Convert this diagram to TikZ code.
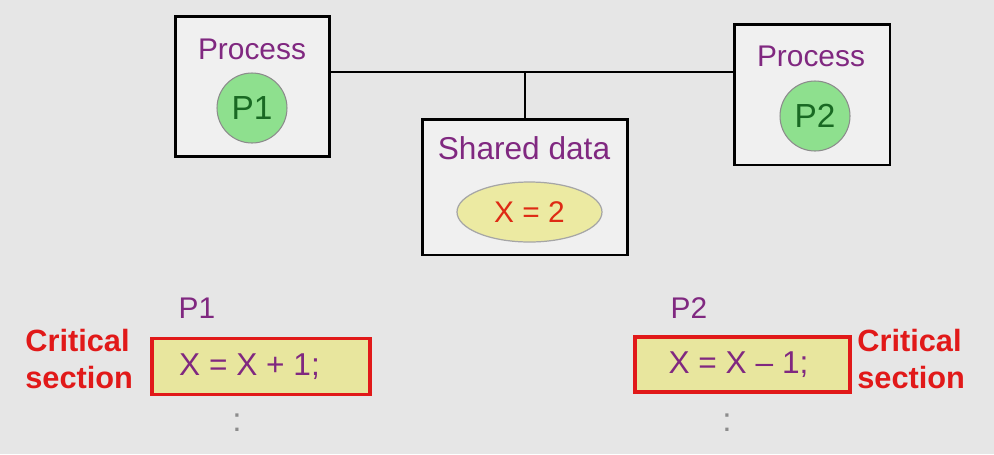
\documentclass[tikz,border=0pt]{standalone}
\usepackage{fontspec}
\setmainfont{Liberation Sans}
\usepackage{tikz}
\usetikzlibrary{shapes.geometric, positioning}
\definecolor{BgGrey}{RGB}{230,230,230}
\definecolor{ProcPurple}{RGB}{128,40,128}
\definecolor{CircGreen}{RGB}{142,224,142}
\definecolor{CircText}{RGB}{25,105,35}
\definecolor{DataYellow}{RGB}{236,234,162}
\definecolor{CodeYellow}{RGB}{232,230,158}
\definecolor{XRed}{RGB}{222,42,20}
\definecolor{CritRed}{RGB}{225,25,25}

\begin{document}
\begin{tikzpicture}[x=0.02cm,y=-0.02cm,
        procbox/.style={draw=black,line width=1.7pt,fill=BgGrey!60,minimum width=3.1cm,minimum height=2.82cm},
        title/.style={font=\fontsize{17}{20}\selectfont,text=ProcPurple},
        pcirc/.style={circle,draw=black!45,line width=0.6pt,fill=CircGreen,minimum size=1.4cm,inner sep=0pt,
                      font=\fontsize{19}{22}\selectfont,text=CircText},
        codebox/.style={draw=CritRed,line width=1.8pt,fill=CodeYellow,minimum height=1.12cm,
                        font=\fontsize{18}{22}\selectfont,text=ProcPurple},
        crit/.style={font=\fontsize{17.5}{21.5}\selectfont\bfseries,text=CritRed,align=left,inner sep=0pt},
        dots/.style={font=\fontsize{19}{22}\selectfont,text=black!45},
        wire/.style={line width=1.2pt,black}]
        \fill[BgGrey] (0,0) rectangle (994,454);
        \useasboundingbox (0,0) rectangle (994,454);

        % processes and shared data
        \node[procbox] (box1) at (252.5,86.5) {};
        \node[title] (proc1) at (252,49) {Process};
        \node[pcirc] (p1) at (252,108) {P1};

        \node[procbox,minimum width=3.12cm] (box2) at (812,94.5) {};
        \node[title] (proc2) at (811,56) {Process};
        \node[pcirc] (p2) at (815,116) {P2};

        \node[procbox,minimum width=4.12cm,minimum height=2.72cm] (shared) at (525,187) {};
        \node[title,font=\fontsize{18}{21}\selectfont] (sdtitle) at (524,148) {Shared data};
        \node[ellipse,draw=black!35,line width=0.7pt,fill=DataYellow,minimum width=2.9cm,minimum height=1.2cm,
              font=\fontsize{17}{20}\selectfont,text=XRed] (xval) at (529.5,212) {X = 2};

        \coordinate (bus) at (525,72);
        \draw[wire] (box1.east |- bus) -- (box2.west |- bus);
        \draw[wire] (bus) -- (shared.north);

        % critical sections
        \node[title] (lab1) at (197,308) {P1};
        \node[codebox,minimum width=4.36cm] (cs1) at (261,366.5) {X = X + 1;\kern0.46cm};
        \node[crit,anchor=west] (crit1) at (25,359) {Critical\\section};
        \node[dots] (dots1) at (237,423) {:};

        \node[title] (lab2) at (689,308) {P2};
        \node[codebox,minimum width=4.3cm,minimum height=1.1cm] (cs2) at (742.5,364.5) {X = X -- 1;\kern0.16cm};
        \node[crit,anchor=west] (crit2) at (857,359) {Critical\\section};
        \node[dots] (dots2) at (727,423) {:};
      \end{tikzpicture}
\end{document}
